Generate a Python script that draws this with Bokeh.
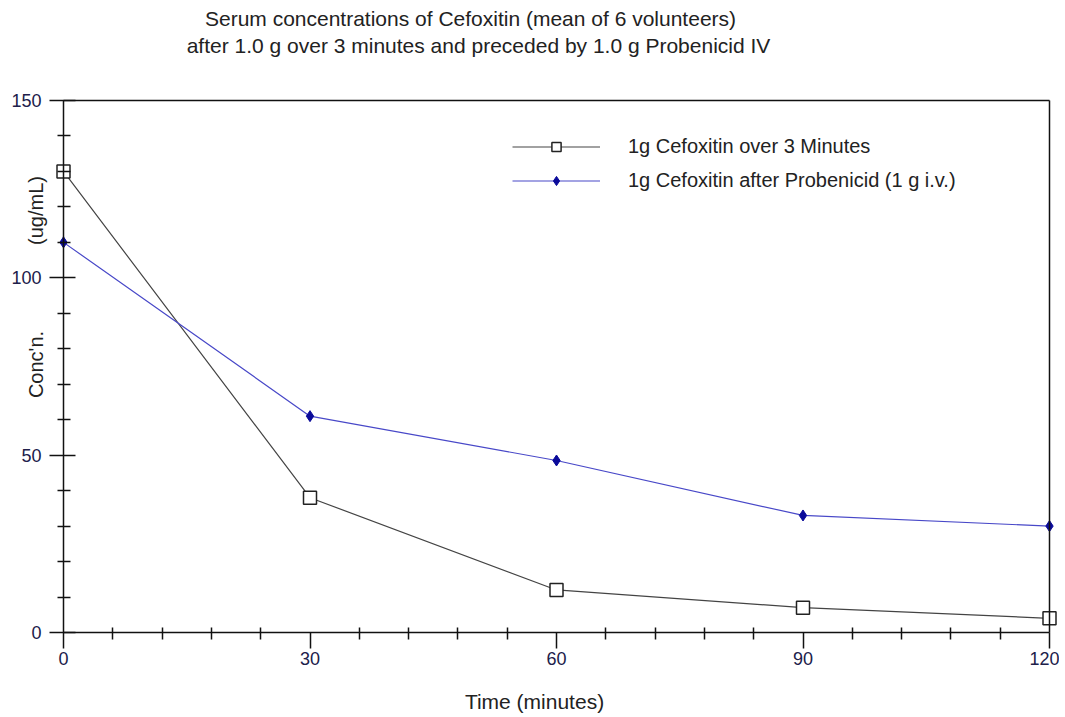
import math
from bokeh.plotting import figure
from bokeh.models import Range1d, FixedTicker, Label, Legend, LegendItem, LinearAxis
from bokeh.embed import file_html
from bokeh.resources import INLINE

# ---- data ----
time_min = [0, 30, 60, 90, 120]
cefoxitin_3min = [130, 38, 12, 7, 4]
cefoxitin_probenecid = [110, 61, 48.5, 33, 30]
x_major = [0, 30, 60, 90, 120]
x_minor = [6, 12, 18, 24, 36, 42, 48, 54, 66, 72, 78, 84, 96, 102, 108, 114]
y_major = [0, 50, 100, 150]
y_minor = [10, 20, 30, 40, 60, 70, 80, 90, 110, 120, 130, 140]
title_lines = ["Serum concentrations of Cefoxitin (mean of 6 volunteers)",
               "after 1.0 g over 3 minutes and preceded by 1.0 g Probenicid IV"]
x_label = "Time (minutes)"
y_label_lines = ["Conc'n.", "(ug/mL)"]
series_names = ["1g Cefoxitin over 3 Minutes", "1g Cefoxitin after Probenicid (1 g i.v.)"]

FONT = "Liberation Sans"
TICK_COLOR = "#20204a"
TEXT = "#222222"
AX = "#111111"

# ---- layout (pixels) ----
W, H = 1059, 716
PX_L, PX_R, PX_T, PX_B = 63, 1049, 100, 632     # plot box in canvas pixels
x0, x1 = x_major[0], x_major[-1]
y0, y1 = y_major[0], y_major[-1]
kx = (PX_R - PX_L) / (x1 - x0)
ky = (PX_B - PX_T) / (y1 - y0)
xr = Range1d(x0 - PX_L / kx, x1 + (W - PX_R) / kx)
yr = Range1d(y0 - (H - PX_B) / ky, y1 + PX_T / ky)

p = figure(width=W, height=H, output_backend="svg", toolbar_location=None,
           x_range=xr, y_range=yr, x_axis_location=None, y_axis_location=None,
           min_border=0)
p.background_fill_color = "white"
p.border_fill_color = "white"
p.outline_line_color = None
p.grid.visible = False

def style(ax):
    ax.axis_line_color = AX
    ax.axis_line_width = 1.5
    ax.major_tick_line_color = AX
    ax.major_tick_line_width = 1.5
    ax.minor_tick_line_color = AX
    ax.minor_tick_line_width = 1.5
    ax.major_label_text_font = FONT
    ax.major_label_text_font_size = "18px"
    ax.major_label_text_color = TICK_COLOR

xa = LinearAxis(fixed_location=y0, bounds=(x0, x1),
                ticker=FixedTicker(ticks=x_major, minor_ticks=x_minor))
style(xa)
xa.major_tick_in = 0
xa.major_tick_out = 16
xa.minor_tick_in = 5
xa.minor_tick_out = 7
xa.major_label_standoff = 3
p.add_layout(xa, "below")

ya = LinearAxis(fixed_location=x0, bounds=(y0, y1),
                ticker=FixedTicker(ticks=y_major, minor_ticks=y_minor))
style(ya)
ya.major_tick_in = 12
ya.major_tick_out = 14
ya.minor_tick_in = 7
ya.minor_tick_out = 6
ya.major_label_standoff = 8
p.add_layout(ya, "left")

# top and right border lines of the plot box
ta = LinearAxis(fixed_location=y1, bounds=(x0, x1), ticker=FixedTicker(ticks=[], minor_ticks=[]))
style(ta)
p.add_layout(ta, "above")
ra = LinearAxis(fixed_location=x1, bounds=(y0, y1), ticker=FixedTicker(ticks=[], minor_ticks=[]))
style(ra)
p.add_layout(ra, "right")

r1l = p.line(time_min, cefoxitin_3min, line_color="#444444", line_width=1.2)
r1m = p.scatter(time_min, cefoxitin_3min, marker="square", size=13,
                fill_color="white", line_color="#222222", line_width=1.5)
r2l = p.line(time_min, cefoxitin_probenecid, line_color="#4848c8", line_width=1.2)
r2m = p.scatter(time_min, cefoxitin_probenecid, marker="diamond", size=11,
                fill_color="#0a0a9a", line_color="#0a0a9a")

legend = Legend(items=[
    LegendItem(label=series_names[0], renderers=[r1l, r1m]),
    LegendItem(label=series_names[1], renderers=[r2l, r2m]),
], location=(512, H - 191.5), padding=0, margin=0, spacing=11,
   glyph_width=88, glyph_height=23, label_height=23, label_standoff=28,
   border_line_color=None, background_fill_alpha=0,
   label_text_font=FONT, label_text_font_size="20px", label_text_color=TEXT)
p.add_layout(legend)

def lab(text, px, py, size, angle=0.0):
    # px, py: canvas pixels from the top-left corner
    p.add_layout(Label(x=px, y=H - py, x_units="screen", y_units="screen", text=text,
                       angle=angle, text_font=FONT, text_font_size=size,
                       text_color=TEXT, text_align="center", text_baseline="middle"))

lab(title_lines[0], 470, 18, "21px")
lab(title_lines[1], 478, 45, "21px")
lab(x_label, 534, 701, "21px")
lab(y_label_lines[0], 35, 364, "20px", angle=math.pi / 2)
lab(y_label_lines[1], 35, 210, "20px", angle=math.pi / 2)

open("out.html", "w").write(file_html(p, INLINE))
